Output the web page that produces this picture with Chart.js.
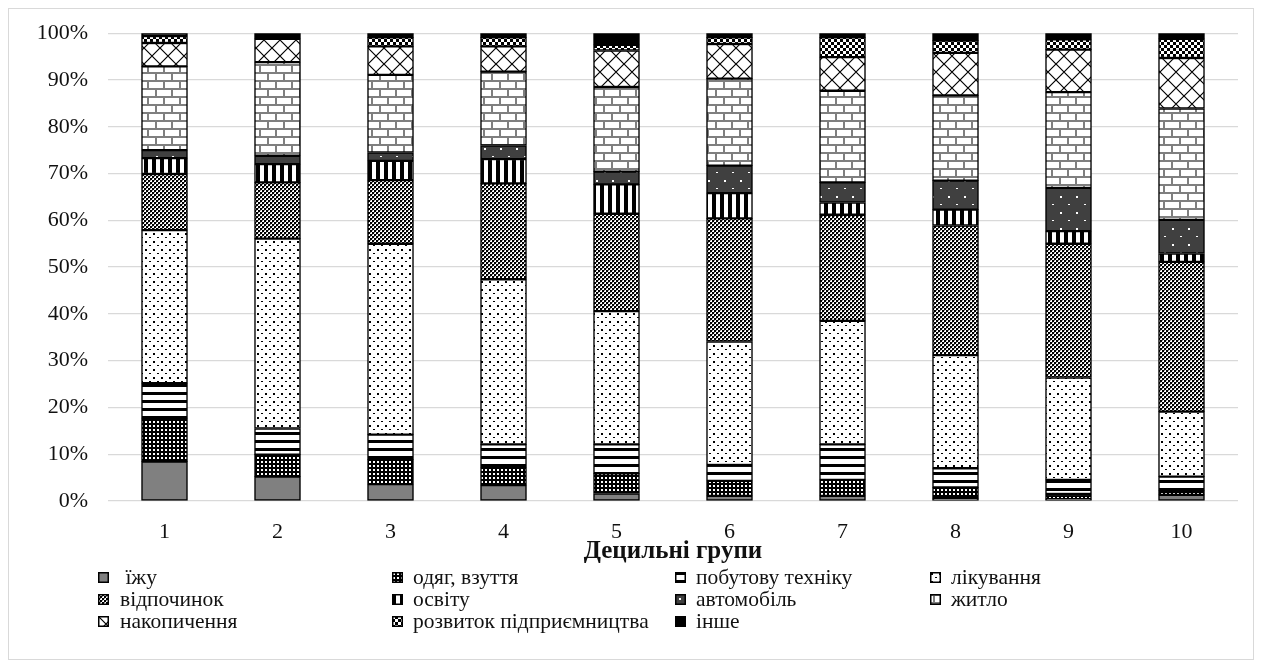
<!DOCTYPE html>
<html>
<head>
<meta charset="utf-8">
<script src="https://cdn.jsdelivr.net/npm/chart.js@4/dist/chart.umd.min.js"></script>
<style>
  html, body { margin: 0; padding: 0; background: #fff; }
  #wrap { position: relative; width: 1262px; height: 666px; overflow: hidden; }
  #frame { position: absolute; left: 8px; top: 8px; width: 1246px; height: 652px; border: 1px solid #d9d9d9; box-sizing: border-box; }
  #c { position: absolute; left: 0; top: 0; }
  .lg { position: absolute; font-family: "Liberation Serif", "Times New Roman", serif; font-size: 21.5px; color: #111; white-space: pre; line-height: 22px; }
  .lg canvas { position: absolute; left: 0; top: 6px; }
  .lg span { position: absolute; left: 0; top: 0; }
</style>
</head>
<body>
<div id="wrap">
  <div id="frame"></div>
  <canvas id="c" width="1262" height="666"></canvas>
  <div id="legend"></div>
</div>
<script>
// ---- data ----
const categories = ['1','2','3','4','5','6','7','8','9','10'];
const seriesNames = [' їжу','одяг, взуття','побутову техніку','лікування','відпочинок','освіту','автомобіль','житло','накопичення','розвиток підприємництва','інше'];
const food        = [8.4, 5.2, 3.6, 3.4, 1.6, 1.1, 1.1, 0.6, 0.4, 1.3];
const clothes     = [9.3, 4.7, 5.3, 3.7, 4.3, 3.2, 3.4, 2.3, 1.1, 1.0];
const appliances  = [7.5, 5.6, 5.3, 5.0, 6.2, 3.4, 7.6, 4.1, 3.0, 2.9];
const treatment   = [32.7, 40.6, 40.8, 35.3, 28.5, 26.4, 26.4, 24.2, 21.9, 13.9];
const leisure     = [12.0, 12.0, 13.6, 20.5, 20.8, 26.3, 22.7, 27.7, 28.6, 32.0];
const education   = [3.4, 3.9, 4.1, 5.2, 6.3, 5.4, 2.6, 3.4, 2.7, 1.8];
const car         = [1.7, 1.8, 1.8, 2.9, 2.7, 5.9, 4.3, 6.2, 9.2, 7.2];
const housing     = [17.9, 20.0, 16.6, 15.8, 18.1, 18.6, 19.6, 18.2, 20.5, 23.8];
const savings     = [5.0, 5.0, 6.1, 5.4, 7.8, 7.4, 7.2, 9.1, 9.1, 10.8];
const business    = [1.5, 0.0, 1.9, 1.9, 1.2, 1.4, 4.2, 2.6, 2.2, 4.1];
const other       = [0.6, 1.2, 0.9, 0.9, 2.5, 0.9, 0.9, 1.6, 1.3, 1.2];
const yTicks = [0,10,20,30,40,50,60,70,80,90,100];
const seriesData = [food, clothes, appliances, treatment, leisure, education, car, housing, savings, business, other];

// ---- patterns ----
function tile(w, h, draw) {
  const cv = document.createElement('canvas');
  cv.width = w; cv.height = h;
  const x = cv.getContext('2d');
  draw(x, w, h);
  return cv;
}
const tiles = [
  tile(4,4,(x)=>{ x.fillStyle='#808080'; x.fillRect(0,0,4,4); }),
  tile(4,4,(x)=>{ x.fillStyle='#000'; x.fillRect(0,0,4,4); x.fillStyle='#fff'; x.fillRect(1,1,2,2); }),
  tile(8,8,(x)=>{ x.fillStyle='#fff'; x.fillRect(0,0,8,8); x.fillStyle='#000'; x.fillRect(0,0,8,3); }),
  tile(8,8,(x)=>{ x.fillStyle='#fff'; x.fillRect(0,0,8,8); x.fillStyle='#000'; x.fillRect(1,1,2,2); x.fillRect(5,5,2,1); }),
  tile(4,4,(x)=>{ x.fillStyle='#fff'; x.fillRect(0,0,4,4); x.fillStyle='#000'; x.fillRect(0,0,2,2); x.fillRect(2,2,2,2); x.fillStyle='#888'; x.fillRect(2,0,1,1); x.fillRect(0,2,1,1); }),
  tile(8,8,(x)=>{ x.fillStyle='#fff'; x.fillRect(0,0,8,8); x.fillStyle='#000'; x.fillRect(0,0,4,8); }),
  tile(16,16,(x)=>{ x.fillStyle='#404040'; x.fillRect(0,0,16,16); x.fillStyle='#fff'; x.fillRect(4,4,2,2); x.fillRect(12,12,2,1); }),
  tile(16,16,(x)=>{ x.fillStyle='#fff'; x.fillRect(0,0,16,16); x.fillStyle='#7f7f7f'; x.fillRect(0,0,16,2); x.fillRect(0,8,16,2); x.fillRect(3,0,2,8); x.fillRect(11,8,2,8); }),
  tile(16,16,(x)=>{ x.fillStyle='#fff'; x.fillRect(0,0,16,16); x.strokeStyle='#000'; x.lineWidth=1.2; x.beginPath(); x.moveTo(0,0); x.lineTo(16,16); x.moveTo(16,0); x.lineTo(0,16); x.stroke(); }),
  tile(6,6,(x)=>{ x.fillStyle='#000'; x.fillRect(0,0,6,6); x.fillStyle='#fff'; x.fillRect(0,0,3,3); x.fillRect(3,3,3,3); }),
  tile(4,4,(x)=>{ x.fillStyle='#000'; x.fillRect(0,0,4,4); })
];
const ctx = document.getElementById('c').getContext('2d');
const patterns = tiles.map(t => ctx.createPattern(t, 'repeat'));

const datasets = seriesData.map((d, i) => ({
  label: seriesNames[i],
  data: d,
  backgroundColor: patterns[i],
  borderColor: '#000',
  borderWidth: 1.5,
  borderSkipped: false,
  barThickness: 46
}));

const FONT = '"Liberation Serif", "Times New Roman", serif';
new Chart(ctx, {
  type: 'bar',
  data: { labels: categories, datasets },
  options: {
    responsive: false,
    animation: false,
    layout: { padding: { left: 10, right: 24, top: 22, bottom: 99 } },
    plugins: { legend: { display: false }, tooltip: { enabled: false } },
    scales: {
      x: {
        stacked: true,
        grid: { display: false, drawTicks: false },
        border: { display: false },
        ticks: { color: '#111', font: { family: FONT, size: 22 }, padding: 18 },
        title: { display: true, text: 'Децильні групи', color: '#111', font: { family: FONT, size: 25, weight: 'bold' }, padding: { top: 0, bottom: 0 } },
        afterFit: (s) => { s.height = 66; }
      },
      y: {
        stacked: true,
        min: 0, max: 100,
        afterBuildTicks: (s) => { s.ticks = yTicks.map(v => ({ value: v })); },
        grid: { color: '#d9d9d9', lineWidth: 1.3, drawTicks: false },
        border: { display: false },
        ticks: { color: '#111', font: { family: FONT, size: 22 }, padding: 20, callback: (v) => v + '%' },
        afterFit: (s) => { s.width = 98; }
      }
    }
  }
});

// ---- legend ----
const legendPos = [
  [98, 566], [392, 566], [675, 566], [930, 566],
  [98, 588], [392, 588], [675, 588], [930, 588],
  [98, 610], [392, 610], [675, 610]
];
const lg = document.getElementById('legend');
seriesNames.forEach((name, i) => {
  const d = document.createElement('div');
  d.className = 'lg';
  d.style.left = legendPos[i][0] + 'px';
  d.style.top = legendPos[i][1] + 'px';
  d.style.width = '320px'; d.style.height = '22px';
  const m = document.createElement('canvas');
  m.width = 11; m.height = 11;
  const mc = m.getContext('2d');
  mc.fillStyle = mc.createPattern(tiles[i], 'repeat');
  mc.fillRect(0,0,11,11);
  mc.strokeStyle = '#000'; mc.lineWidth = 1.5; mc.strokeRect(0.75,0.75,9.5,9.5);
  const s = document.createElement('span');
  s.textContent = name;
  s.style.left = (i % 4 === 0 ? 22 : 21) + 'px';
  d.appendChild(m); d.appendChild(s);
  lg.appendChild(d);
});
</script>
</body>
</html>
